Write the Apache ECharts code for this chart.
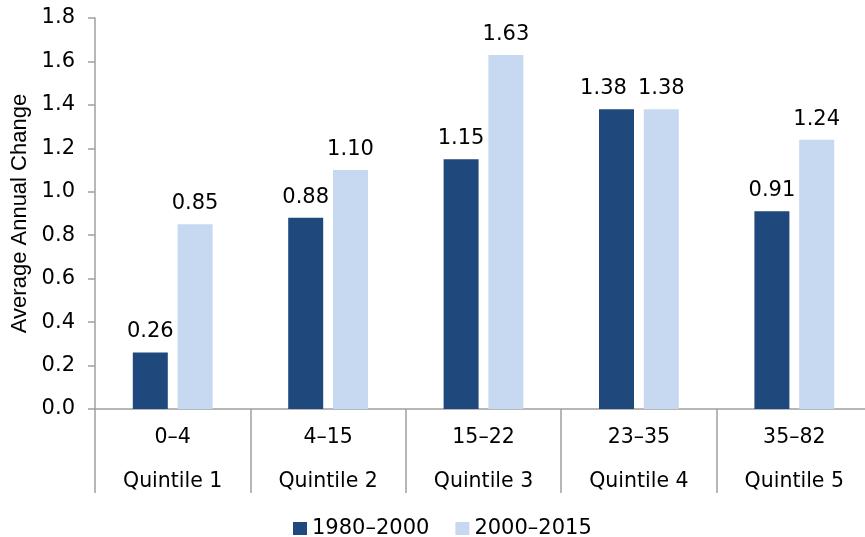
<!DOCTYPE html>
<html>
<head>
<meta charset="utf-8">
<script src="https://cdn.jsdelivr.net/npm/echarts@6/dist/echarts.min.js"></script>
<style>html,body{margin:0;padding:0;background:#fff}#c{width:865px;height:537px}</style>
</head>
<body>
<div id="c"></div>
<script>
var ranges = ['0–4', '4–15', '15–22', '23–35', '35–82'];
var quintiles = ['Quintile 1', 'Quintile 2', 'Quintile 3', 'Quintile 4', 'Quintile 5'];
var series1980 = [0.26, 0.88, 1.15, 1.38, 0.91];
var series2000 = [0.85, 1.10, 1.63, 1.38, 1.24];
var seriesNames = ['1980–2000', '2000–2015'];
var yTicks = [0, 0.2, 0.4, 0.6, 0.8, 1.0, 1.2, 1.4, 1.6, 1.8];

var font = 'DejaVu Sans, Verdana, sans-serif';
var chart = echarts.init(document.getElementById('c'));
var cats = ranges.map(function (r, i) { return r + '\n' + quintiles[i]; });
var labelStyle = { show: true, position: 'top', distance: 10, fontFamily: font, fontSize: 21, color: '#000',
  formatter: function (p) { return p.value.toFixed(2); } };
// first-series label nudged left where both labels would collide (Quintile 4)
var data1980 = series1980.map(function (v, i) {
  return i === 3 ? { value: v, label: { offset: [-13, 0] } } : v;
});
chart.setOption({
  animation: false,
  grid: { left: 95, top: 18, width: 777, height: 391, containLabel: false, outerBoundsMode: 'none' },
  legend: {
    data: seriesNames,
    left: 288, top: 513,
    icon: 'rect', itemWidth: 14, itemHeight: 13, itemGap: 26,
    textStyle: { fontFamily: font, fontSize: 21, color: '#000' }
  },
  xAxis: {
    type: 'category',
    data: cats,
    axisLine: { lineStyle: { color: '#a0a0a0', width: 1.5 } },
    axisTick: { show: true, length: 84, interval: 0, lineStyle: { color: '#a0a0a0', width: 1.5 } },
    axisLabel: {
      interval: 0, margin: 7,
      fontFamily: font, fontSize: 20.5, color: '#000', lineHeight: 44
    }
  },
  yAxis: {
    type: 'value', min: yTicks[0], max: yTicks[yTicks.length - 1], interval: 0.2,
    name: 'Average Annual Change', nameLocation: 'middle', nameGap: 60,
    nameTextStyle: { fontFamily: 'Liberation Sans, Arial, sans-serif', fontSize: 22, color: '#000' },
    splitLine: { show: false },
    axisLine: { show: true, lineStyle: { color: '#a0a0a0', width: 1.5 } },
    axisTick: { show: true, length: 7, lineStyle: { color: '#a0a0a0', width: 1.5 } },
    axisLabel: {
      margin: 20, fontFamily: font, fontSize: 21, color: '#000',
      formatter: function (v) { return v.toFixed(1); }
    }
  },
  series: [
    {
      name: seriesNames[0], type: 'bar', data: data1980,
      barWidth: 35, barGap: '28%',
      itemStyle: { color: '#1f497d' },
      label: labelStyle
    },
    {
      name: seriesNames[1], type: 'bar', data: series2000,
      barWidth: 35,
      itemStyle: { color: '#c6d9f1' },
      label: labelStyle
    }
  ]
});
</script>
</body>
</html>
